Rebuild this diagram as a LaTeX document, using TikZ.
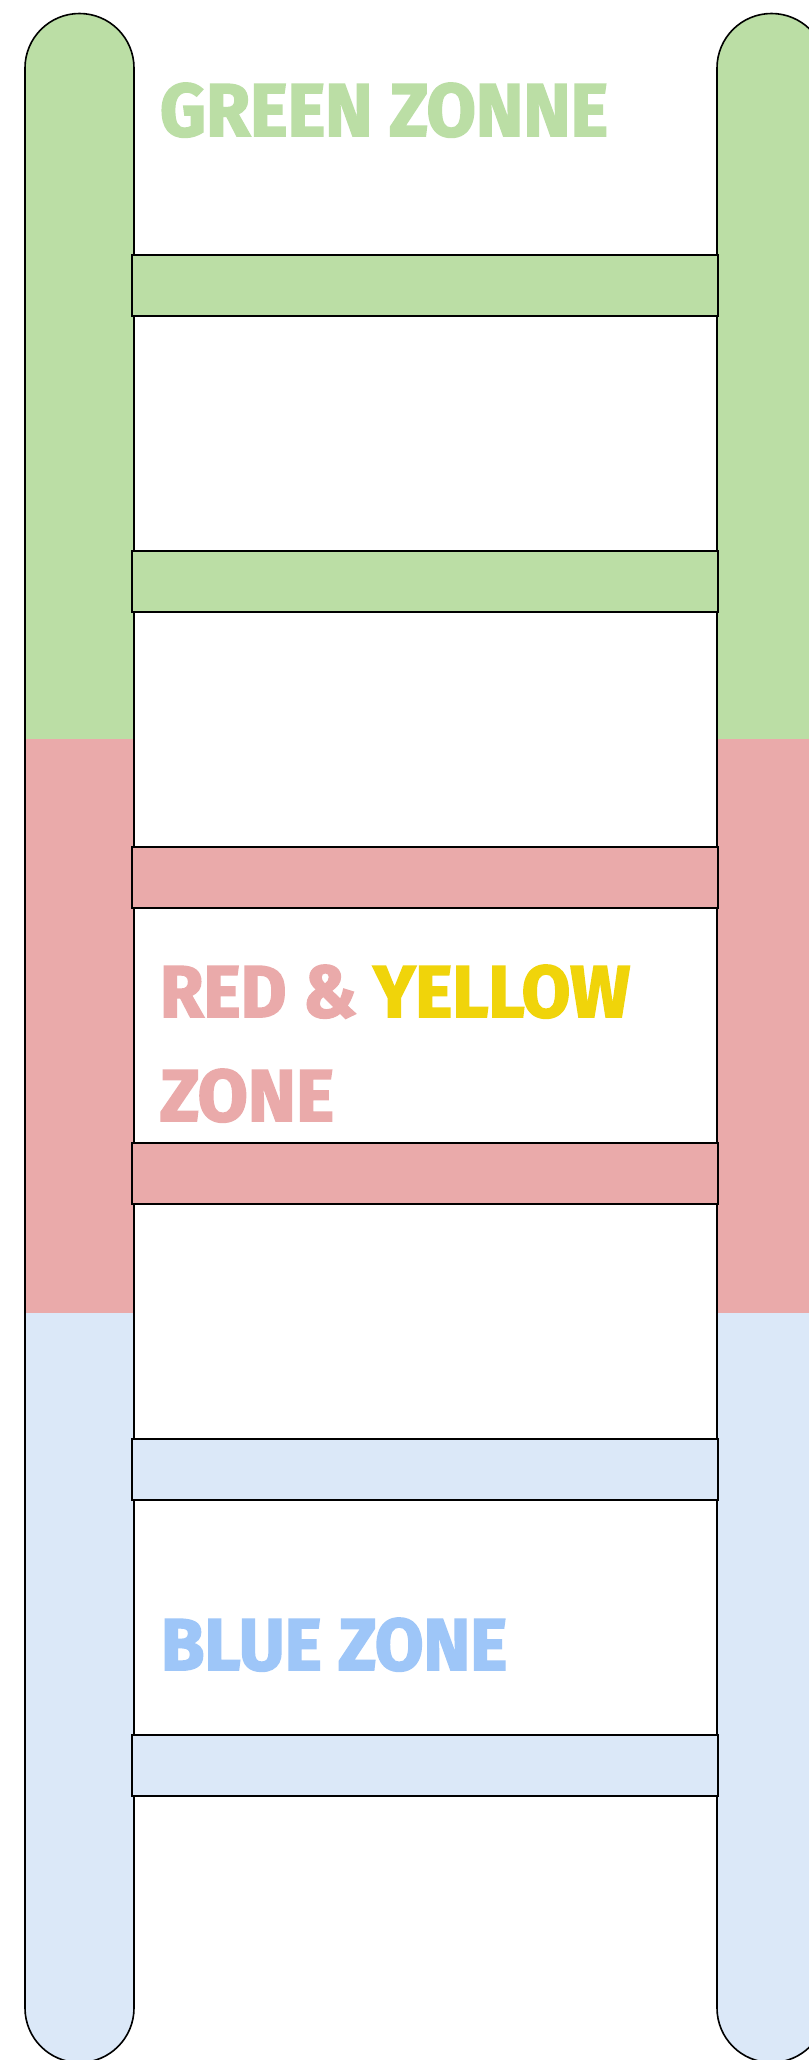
\documentclass[tikz,border=0pt]{standalone}
\usepackage{fontspec}
\setmainfont{Fira Sans}[BoldFeatures={FakeBold=2.5}]
\usepackage{graphicx}

\definecolor{zgreen}{HTML}{BBDEA5}
\definecolor{zred}{HTML}{EAAAAA}
\definecolor{zyellow}{HTML}{F0D40A}
\definecolor{zblue}{HTML}{DBE8F8}
\definecolor{zbluetext}{HTML}{9EC6F8}

\tikzset{
  rail/.style={draw=black, line width=1.6pt},
  rung/.style={draw=black, line width=1.2pt},
  zonelabel/.style={anchor=north west, inner sep=0pt, outer sep=0pt}
}

\begin{document}
\begin{tikzpicture}[x=1pt, y=-1pt]
\useasboundingbox (0,0) rectangle (808,2060);
\fill[white] (0,0) rectangle (808,2060);

% Rails: three colour bands, rounded ends
\foreach \rx in {25,717} {
  \begin{scope}
    \clip (\rx,68) arc[start angle=180, end angle=360, radius=54.5]
      -- (\rx+109,2008) arc[start angle=0, end angle=180, radius=54.5] -- cycle;
    \fill[zgreen] (\rx-5,0) rectangle (\rx+115,739);
    \fill[zred] (\rx-5,739) rectangle (\rx+115,1313);
    \fill[zblue] (\rx-5,1313) rectangle (\rx+115,2070);
  \end{scope}
  \draw[rail] (\rx,68) arc[start angle=180, end angle=360, radius=54.5]
    -- (\rx+109,2008) arc[start angle=0, end angle=180, radius=54.5] -- cycle;
}

% Rungs
\foreach \i/\c in {0/zgreen,1/zgreen,2/zred,3/zred,4/zblue,5/zblue}
  \filldraw[rung, fill=\c] (132,255+296*\i) rectangle (718,316+296*\i);

% Zone labels
\node[zonelabel] (greenlabel) at (160,83)
  {\color{zgreen}\resizebox{448pt}{53pt}{\bfseries GREEN ZONNE}};
\node[zonelabel] (redlabel) at (160,965)
  {\resizebox{470pt}{52pt}{\bfseries\color{zred}RED \& \color{zyellow}YELLOW}};
\node[zonelabel] (redzone) at (160,1069)
  {\color{zred}\resizebox{174pt}{52pt}{\bfseries ZONE}};
\node[zonelabel] (bluelabel) at (161,1618)
  {\color{zbluetext}\resizebox{346pt}{52pt}{\bfseries BLUE ZONE}};
\end{tikzpicture}
\end{document}
